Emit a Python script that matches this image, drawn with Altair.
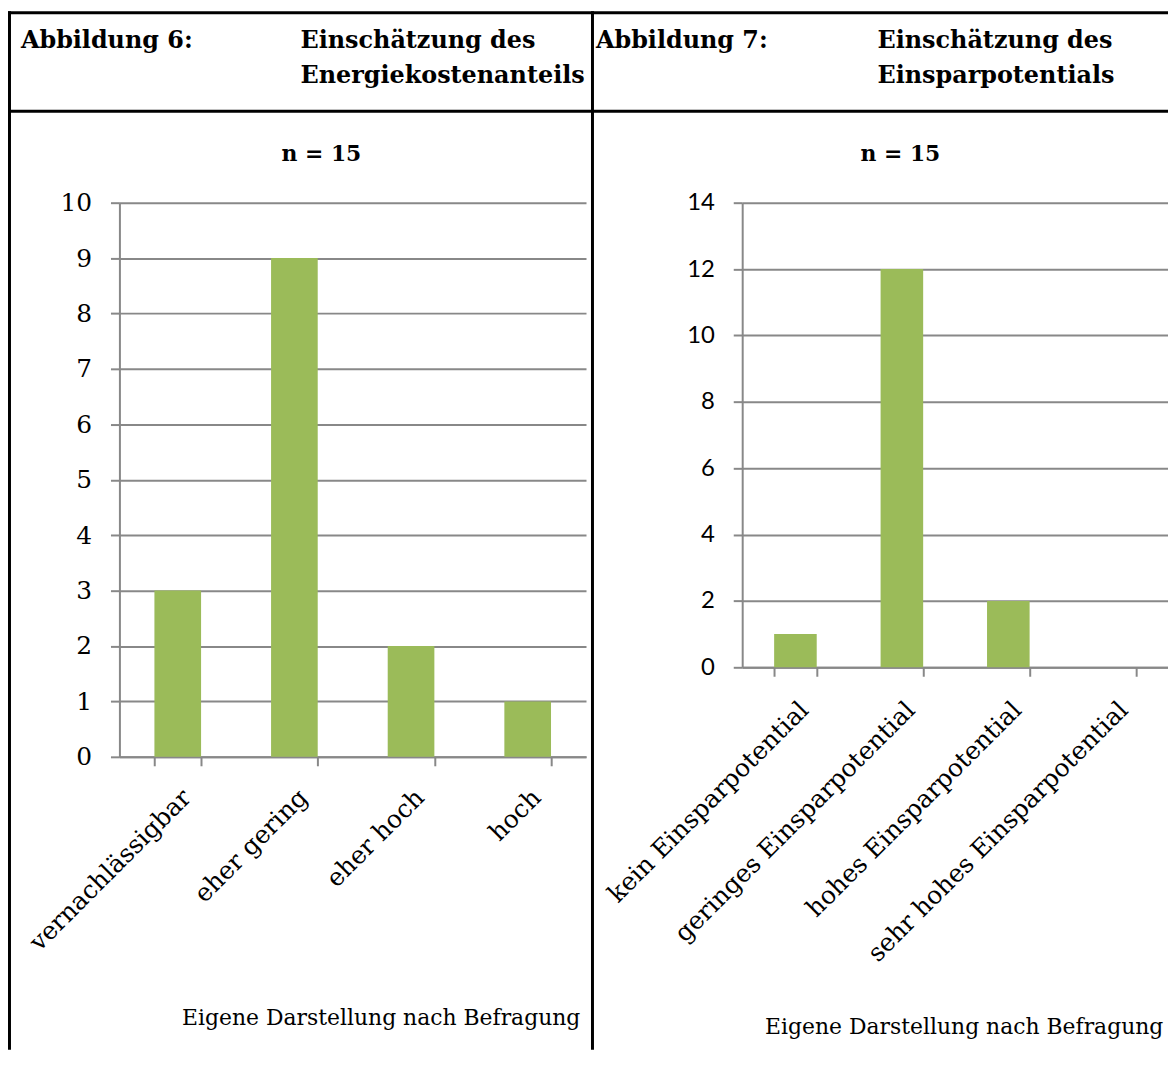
import altair as alt
import pandas as pd

# ---- data ----
cats_left = ["vernachlässigbar", "eher gering", "eher hoch", "hoch"]
vals_left = [3, 9, 2, 1]
ticks_left = list(range(0, 11))

cats_right = ["kein Einsparpotential", "geringes Einsparpotential",
              "hohes Einsparpotential", "sehr hohes Einsparpotential"]
vals_right = [1, 12, 2, 0]
ticks_right = list(range(0, 15, 2))

title_left = ["Abbildung 6:", "Einschätzung des", "Energiekostenanteils"]
title_right = ["Abbildung 7:", "Einschätzung des", "Einsparpotentials"]
n_label = "n = 15"
source_note = "Eigene Darstellung nach Befragung"

SERIF = "DejaVu Serif"
SANS = "Lato"
GRAY = "#888888"
GREEN = "#9BBB59"

one = pd.DataFrame({"k": [0]})


def txt(s, x, y, size, bold=False, align="left", font=SERIF):
    return alt.Chart(one).mark_text(
        font=font, fontSize=size, fontWeight="bold" if bold else "normal",
        align=align, baseline="alphabetic", color="black"
    ).encode(x=alt.value(x), y=alt.value(y), text=alt.value(s))


def border(x, x2, y, y2):
    # table border drawn as a thin filled box (exact bounds, no stroke)
    return alt.Chart(one).mark_rect(color="black", strokeWidth=0).encode(
        x=alt.value(x), x2=alt.value(x2), y=alt.value(y), y2=alt.value(y2))


def bars(cats, vals, ymax, yticks, w, h, ylabfont, ylabsize, xlabsize, xpad):
    df = pd.DataFrame({"cat": cats, "v": vals})
    return alt.Chart(df).mark_bar(color=GREEN).encode(
        x=alt.X("cat:N", sort=cats,
                scale=alt.Scale(paddingInner=0.6, paddingOuter=0.3),
                axis=alt.Axis(title=None, labelAngle=-45, labelFont=SERIF,
                              labelFontSize=xlabsize, labelColor="black",
                              tickBand="extent", tickSize=9, tickColor=GRAY,
                              tickWidth=2, domainColor=GRAY, domainWidth=2,
                              labelPadding=xpad, grid=False, labelLimit=0)),
        y=alt.Y("v:Q", scale=alt.Scale(domain=[0, ymax], nice=False),
                axis=alt.Axis(title=None, values=yticks, grid=True,
                              gridColor=GRAY, gridWidth=2, gridOpacity=1,
                              tickSize=9, tickColor=GRAY, tickWidth=2,
                              domainColor=GRAY, domainWidth=2,
                              labelFont=ylabfont, labelFontSize=ylabsize,
                              labelColor="black", labelPadding=19)),
    ).properties(width=w, height=h)


BOTTOM = 1052   # keep the page inside the window (no scrolling)
RIGHT = 1174

# left panel: plot origin at page (120, 200.5)
LX, LY = 120, 200.5
left = alt.layer(
    bars(cats_left, vals_left, 10, ticks_left, 469, 557, SERIF, 25, 25, 19),
    # table borders (page coordinates shifted to the left plot origin)
    border(8 - LX, RIGHT - LX, 8 - LY, 11 - LY),
    border(8 - LX, RIGHT - LX, 107 - LY, 110 - LY),
    border(8 - LX, 11 - LX, 8 - LY, BOTTOM - LY),
    border(594 - LX, 597 - LX, 8 - LY, BOTTOM - LY),
    txt(title_left[0], 21 - LX, 45 - LY, 24, bold=True),
    txt(title_left[1], 302 - LX, 45 - LY, 24, bold=True),
    txt(title_left[2], 302 - LX, 80 - LY, 24, bold=True),
    txt(n_label, 323 - LX, 158.5 - LY, 22, bold=True, align="center"),
    txt(source_note, 183 - LX, 1027 - LY, 22),
)

RX, RY = 746, 200.5
right = alt.layer(
    bars(cats_right, vals_right, 14, ticks_right, 428, 467, SANS, 24, 25, 21),
    txt(title_right[0], 599 - RX, 45 - RY, 24, bold=True),
    txt(title_right[1], 882 - RX, 45 - RY, 24, bold=True),
    txt(title_right[2], 882 - RX, 80 - RY, 24, bold=True),
    txt(n_label, 905 - RX, 158.5 - RY, 22, bold=True, align="center"),
    txt(source_note, 769 - RX, 1036 - RY, 22),
)

chart = alt.hconcat(left, right, spacing=157, bounds="flush").properties(
    padding=0
).configure_view(stroke=None)

chart.save("out.html", embed_options={"renderer": "svg", "actions": False})
